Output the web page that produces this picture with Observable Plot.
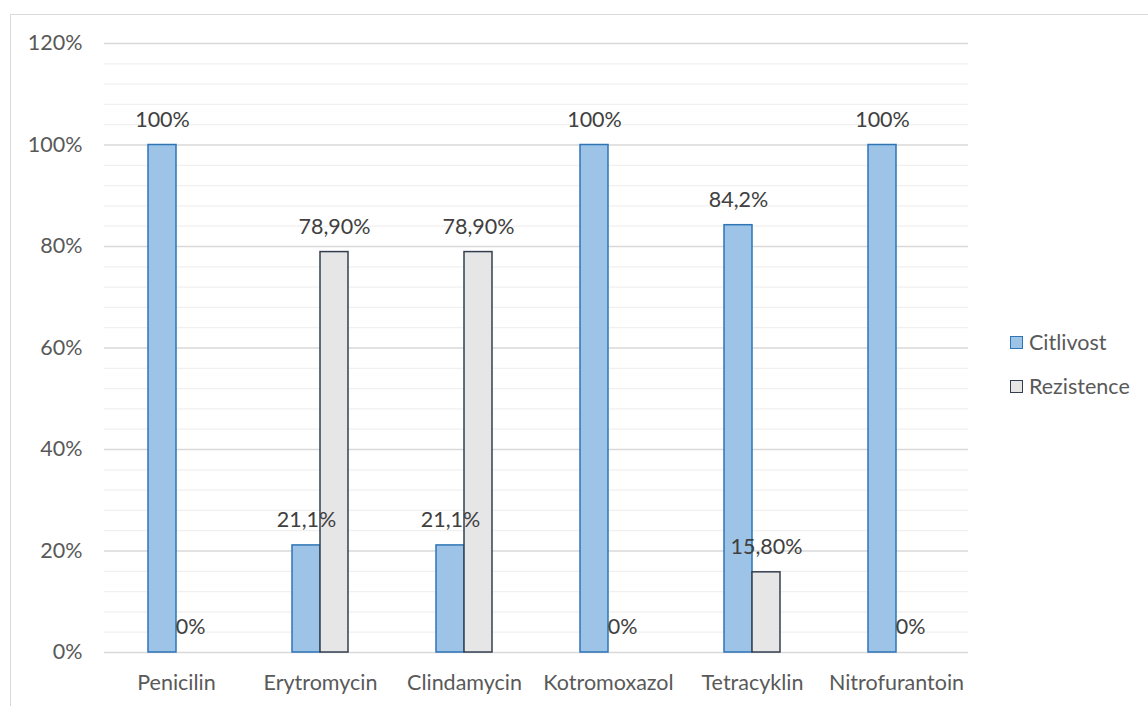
<!DOCTYPE html>
<html>
<head>
<meta charset="utf-8">
<script src="https://cdn.jsdelivr.net/npm/d3@7"></script>
<script src="https://cdn.jsdelivr.net/npm/@observablehq/plot@0.6"></script>
<style>
  html, body { margin: 0; padding: 0; background: #fff; }
  body { width: 1148px; height: 706px; position: relative; overflow: hidden; font-family: Lato, "Noto Sans", sans-serif; }
  #frame { position: absolute; left: 10px; top: 14px; width: 1150px; height: 700px; border: 1px solid #d9d9d9; box-sizing: border-box; }
  #chart { position: absolute; left: 0; top: 0; }
  #legend { position: absolute; left: 1010px; top: 330px; font-size: 21.5px; color: #595959; }
  .item { display: flex; align-items: center; height: 24px; margin-bottom: 20px; }
  .sw { width: 11px; height: 11px; margin-right: 6px; border: 1.5px solid; }
</style>
</head>
<body>
<div id="frame"></div>
<div id="chart"></div>
<div id="legend"></div>
<script>
const drugs = ["Penicilin", "Erytromycin", "Clindamycin", "Kotromoxazol", "Tetracyklin", "Nitrofurantoin"];
const seriesNames = ["Citlivost", "Rezistence"];
const citlivost = [100, 21.1, 21.1, 100, 84.2, 100];
const rezistence = [0, 78.9, 78.9, 0, 15.8, 0];
const citlivostLabels = ["100%", "21,1%", "21,1%", "100%", "84,2%", "100%"];
const rezistenceLabels = ["0%", "78,90%", "78,90%", "0%", "15,80%", "0%"];
const yTicks = [0, 20, 40, 60, 80, 100, 120];
const yTickLabels = ["0%", "20%", "40%", "60%", "80%", "100%", "120%"];
const minorTicks = d3.range(0, 121, 4).filter(v => v % 20 !== 0);

const fills = {Citlivost: "#9dc3e6", Rezistence: "#e7e6e6"};
const strokes = {Citlivost: "#2e75b6", Rezistence: "#333f50"};

const data = [];
drugs.forEach((d, i) => {
  data.push({drug: d, series: "Citlivost", value: citlivost[i], label: citlivostLabels[i]});
  data.push({drug: d, series: "Rezistence", value: rezistence[i], label: rezistenceLabels[i]});
});

const chart = Plot.plot({
  width: 1148,
  height: 706,
  marginLeft: 103,
  marginRight: 180,
  marginTop: 43,
  marginBottom: 54,
  style: {fontFamily: "Lato, 'Noto Sans', sans-serif", fontSize: "21.5px", color: "#595959", background: "transparent"},
  fx: {domain: drugs, padding: 0, label: null, tickSize: 0, tickPadding: 22},
  x: {domain: seriesNames, paddingInner: 0, paddingOuter: 1.49, axis: null},
  y: {domain: [0, 120], ticks: yTicks, tickFormat: (d) => yTickLabels[yTicks.indexOf(d)], tickSize: 0, tickPadding: 22, label: null},
  color: {domain: seriesNames, range: seriesNames.map(s => fills[s])},
  marks: [
    Plot.ruleY(minorTicks, {stroke: "#f0f0f0", strokeWidth: 1.3}),
    Plot.ruleY(yTicks, {stroke: "#d9d9d9", strokeWidth: 1.3}),
    Plot.barY(data, {
      fx: "drug", x: "series", y: "value",
      fill: "series",
      stroke: d => strokes[d.series],
      strokeWidth: 1.5
    }),
    Plot.text(data, {
      fx: "drug", x: "series", y: "value", text: "label",
      dy: -25, fill: "#404040", fontSize: 21.5, textAnchor: "middle", lineAnchor: "middle"
    })
  ]
});
document.getElementById("chart").appendChild(chart);

const legend = document.getElementById("legend");
seriesNames.forEach(s => {
  const item = document.createElement("div");
  item.className = "item";
  const sw = document.createElement("span");
  sw.className = "sw";
  sw.style.background = fills[s];
  sw.style.borderColor = strokes[s];
  const t = document.createElement("span");
  t.textContent = s;
  item.appendChild(sw);
  item.appendChild(t);
  legend.appendChild(item);
});
</script>
</body>
</html>
